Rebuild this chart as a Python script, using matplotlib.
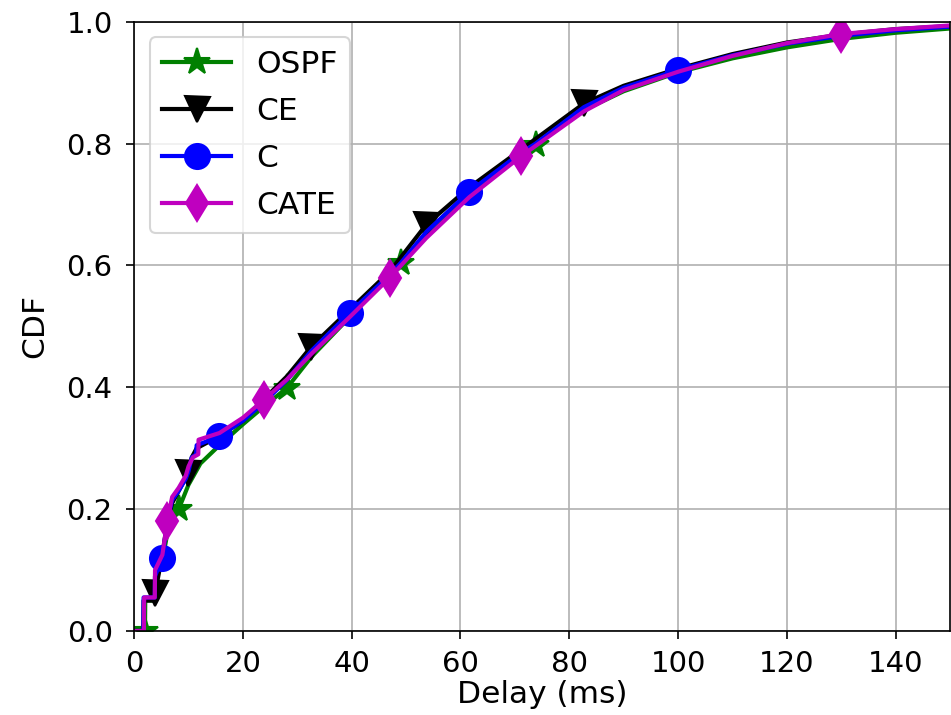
import numpy as np
import matplotlib
matplotlib.use("Agg")
import matplotlib.pyplot as plt

# CDF curves (delay in ms, cumulative fraction)
ospf_x = [0, 2.0, 2.05, 3.8, 3.85, 5.2, 6.1, 7, 8.2, 10, 12.2, 15.7, 20.1, 23.8, 28.1, 32.6,
          39.6, 44, 49.1, 53.7, 61.6, 71.1, 73.8, 82.7, 90, 100, 110, 120, 130, 140, 150]
ospf_y = [0, 0, 0.05, 0.05, 0.09, 0.115, 0.16, 0.185, 0.2, 0.24, 0.275, 0.305, 0.34, 0.368, 0.399, 0.45,
          0.515, 0.56, 0.604, 0.65, 0.715, 0.78, 0.798, 0.855, 0.886, 0.917, 0.94, 0.958, 0.972, 0.982, 0.989]
ospf_marks = [2.0, 8.2, 28.1, 49.1, 73.8]

ce_x = [0, 1.7, 1.75, 3.8, 3.85, 5.2, 6.1, 7, 8.2, 10, 10.6, 11.5, 15.7, 20, 23.8, 28.1, 32.6,
        39.6, 47, 53.7, 61.6, 71.1, 82.7, 90, 100, 110, 120, 130, 140, 150]
ce_y = [0, 0, 0.05, 0.05, 0.062, 0.125, 0.18, 0.21, 0.23, 0.26, 0.285, 0.3, 0.32, 0.345, 0.38, 0.418, 0.467,
        0.527, 0.59, 0.667, 0.728, 0.79, 0.866, 0.895, 0.923, 0.947, 0.966, 0.979, 0.988, 0.993]
ce_marks = [3.85, 10, 32.6, 53.7, 82.7]

c_x = [0, 1.7, 1.75, 3.8, 3.85, 5.2, 6.1, 7, 8.2, 9.5, 10, 10.6, 11.4, 11.5, 13, 15.7, 20, 23.8, 28.1,
       32.6, 39.6, 47, 49.1, 53.7, 61.6, 71.1, 73.8, 82.7, 90, 100, 110, 120, 130, 140, 150]
c_y = [0, 0, 0.055, 0.055, 0.09, 0.12, 0.18, 0.215, 0.23, 0.25, 0.262, 0.285, 0.29, 0.305, 0.31, 0.32, 0.345,
       0.375, 0.412, 0.46, 0.522, 0.585, 0.605, 0.655, 0.721, 0.785, 0.8, 0.86, 0.892, 0.921, 0.945, 0.964,
       0.977, 0.986, 0.992]
c_marks = [5.2, 15.7, 39.6, 61.6, 100]

cate_x = [0, 1.8, 1.85, 3.8, 3.85, 5.2, 6.1, 7, 8.2, 9.5, 10, 10.8, 11.8, 11.85, 15.7, 20, 23.8, 28.1,
          32.6, 39.6, 47, 53.7, 61.6, 71.1, 82.7, 90, 100, 110, 120, 130, 140, 150]
cate_y = [0, 0, 0.055, 0.055, 0.1, 0.125, 0.18, 0.22, 0.235, 0.255, 0.27, 0.285, 0.29, 0.314, 0.325, 0.35,
          0.379, 0.413, 0.455, 0.515, 0.58, 0.645, 0.712, 0.779, 0.853, 0.888, 0.918, 0.944, 0.965, 0.98,
          0.988, 0.994]
cate_marks = [6.1, 23.8, 47, 71.1, 130]

SERIES = [
    ("OSPF", ospf_x, ospf_y, ospf_marks, "g", "*"),
    ("CE", ce_x, ce_y, ce_marks, "k", "v"),
    ("C", c_x, c_y, c_marks, "b", "o"),
    ("CATE", cate_x, cate_y, cate_marks, "m", "d"),
]


def with_markers(cx, cy, mx):
    # put the marker positions into the curve so markevery can pick them out
    cx = np.asarray(cx, dtype=float)
    cy = np.asarray(cy, dtype=float)
    mx = np.asarray(mx, dtype=float)
    my = np.interp(mx, cx, cy)
    xs = np.concatenate([cx, mx])
    ys = np.concatenate([cy, my])
    is_mark = np.concatenate([np.zeros(len(cx), bool), np.ones(len(mx), bool)])
    order = np.argsort(xs, kind="stable")
    idx = [int(i) for i in np.flatnonzero(is_mark[order])]
    return xs[order], ys[order], idx


fig = plt.figure(figsize=(951 / 150, 715 / 150), dpi=150)
ax = fig.add_axes([0.141, 0.1175, 0.858, 0.852])

for label, cx, cy, mx, color, marker in SERIES:
    x, y, idx = with_markers(cx, cy, mx)
    ax.plot(x, y, color=color, lw=2, marker=marker, markersize=12 if marker != "*" else 13,
            markevery=idx, label=label)

ax.set_xlim(0, 150)
ax.set_ylim(0, 1.0)
ax.set_xticks(np.arange(0, 141, 20))
ax.set_yticks(np.arange(0, 1.01, 0.2))
ax.tick_params(labelsize=14, length=4, pad=6.3)
ax.tick_params(axis="x", pad=5)
ax.set_xlabel("Delay (ms)", fontsize=15, labelpad=1)
ax.set_ylabel("CDF", fontsize=15, labelpad=8)
ax.grid(True)
ax.legend(loc="upper left", fontsize=15, labelspacing=0.58, handlelength=2.2)

fig.savefig("out.png", dpi=150)
